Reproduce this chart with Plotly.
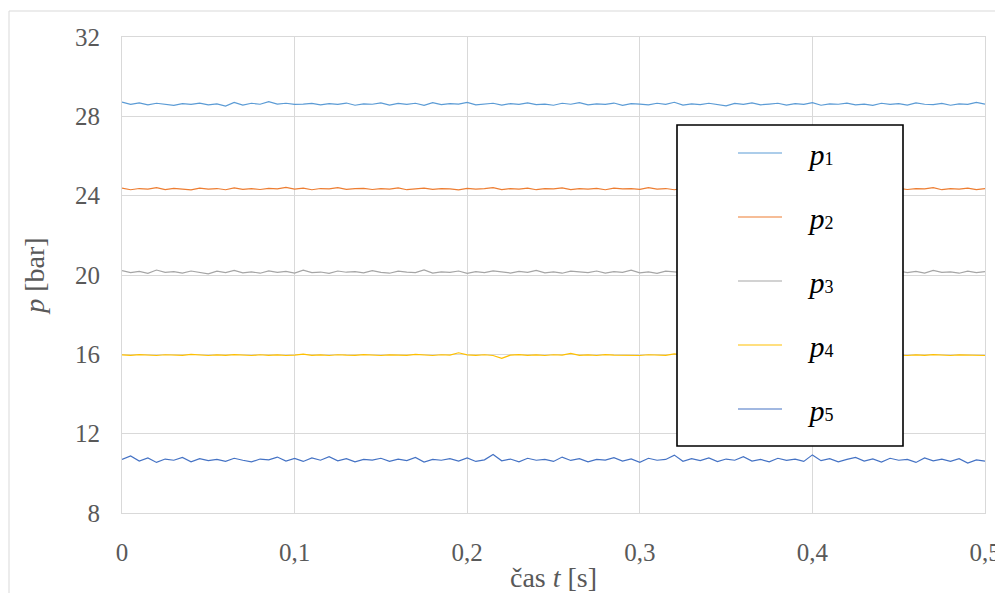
import numpy as np
import plotly.graph_objects as go

# ---- data ----
p1 = [28.72,28.60,28.68,28.58,28.66,28.62,28.55,28.64,28.60,28.67,
      28.58,28.63,28.52,28.70,28.57,28.66,28.61,28.74,28.62,28.66,
      28.60,28.62,28.65,28.58,28.64,28.60,28.67,28.56,28.63,28.61,
      28.68,28.57,28.65,28.60,28.66,28.55,28.69,28.59,28.64,28.62,
      28.70,28.58,28.63,28.66,28.57,28.64,28.60,28.68,28.59,28.62,
      28.56,28.66,28.61,28.69,28.58,28.63,28.60,28.67,28.55,28.64,
      28.62,28.58,28.66,28.60,28.71,28.57,28.63,28.59,28.66,28.61,
      28.53,28.65,28.60,28.68,28.58,28.62,28.66,28.57,28.64,28.60,
      28.69,28.56,28.63,28.61,28.67,28.58,28.62,28.55,28.66,28.60,
      28.64,28.57,28.68,28.61,28.59,28.65,28.56,28.63,28.60,28.70,28.62]
p2 = [24.38,24.30,24.36,24.33,24.40,24.31,24.37,24.34,24.29,24.38,
      24.33,24.36,24.30,24.39,24.32,24.35,24.31,24.37,24.34,24.42,
      24.33,24.38,24.30,24.36,24.34,24.40,24.32,24.35,24.37,24.31,
      24.36,24.33,24.39,24.30,24.35,24.38,24.32,24.36,24.34,24.29,
      24.37,24.33,24.35,24.40,24.31,24.36,24.33,24.38,24.30,24.35,
      24.34,24.39,24.31,24.36,24.33,24.37,24.30,24.38,24.34,24.35,
      24.32,24.40,24.33,24.36,24.30,24.37,24.35,24.31,24.39,24.34,
      24.36,24.30,24.38,24.33,24.35,24.41,24.32,24.36,24.34,24.29,
      24.37,24.33,24.39,24.31,24.35,24.36,24.30,24.38,24.34,24.32,
      24.37,24.31,24.36,24.34,24.40,24.30,24.35,24.33,24.38,24.31,24.36]
p3 = [20.22,20.12,20.18,20.08,20.25,20.13,20.17,20.10,20.20,20.14,
      20.06,20.19,20.12,20.23,20.11,20.16,20.09,20.21,20.13,20.18,
      20.10,20.24,20.12,20.15,20.08,20.20,20.14,20.17,20.11,20.22,
      20.13,20.09,20.19,20.15,20.12,20.26,20.10,20.16,20.13,20.20,
      20.08,20.17,20.12,20.21,20.14,20.10,20.18,20.13,20.23,20.11,
      20.16,20.09,20.19,20.14,20.12,20.20,20.10,20.17,20.13,20.24,
      20.11,20.16,20.08,20.19,20.14,20.12,20.21,20.10,20.17,20.13,
      20.25,20.11,20.15,20.09,20.20,20.13,20.18,20.10,20.22,20.14,
      20.12,20.19,20.09,20.16,20.13,20.21,20.11,20.17,20.14,20.08,
      20.20,20.12,20.18,20.10,20.23,20.13,20.16,20.09,20.19,20.12,20.17]
p4 = [15.97,15.95,15.99,15.96,15.94,15.98,15.96,15.95,16.00,15.96,
      15.94,15.97,15.95,15.99,15.96,15.94,15.98,15.95,15.97,15.94,
      15.96,16.01,15.95,15.97,15.94,15.98,15.96,15.95,15.99,15.96,
      15.94,15.97,15.96,15.95,16.00,15.96,15.94,15.98,15.96,16.08,
      15.97,15.95,15.98,15.94,15.80,15.96,15.99,15.95,15.97,15.94,
      15.98,15.96,16.05,15.95,15.97,15.94,15.99,15.96,15.95,15.97,
      15.94,15.98,15.96,15.95,16.02,15.96,15.94,15.97,15.95,15.99,
      15.96,15.94,15.98,15.95,15.97,15.96,15.94,15.99,15.95,15.97,
      15.94,15.98,15.96,15.95,16.00,15.96,15.94,15.97,15.95,15.98,
      15.96,15.94,15.97,15.95,15.99,15.96,15.94,15.97,15.95,15.96,15.94]
p5 = [10.70,10.88,10.62,10.78,10.55,10.72,10.66,10.80,10.58,10.74,
      10.64,10.70,10.60,10.76,10.66,10.58,10.72,10.68,10.82,10.62,
      10.75,10.60,10.78,10.66,10.84,10.63,10.74,10.58,10.70,10.67,
      10.76,10.60,10.72,10.64,10.80,10.57,10.70,10.66,10.74,10.62,
      10.78,10.60,10.68,10.95,10.63,10.72,10.58,10.76,10.66,10.70,
      10.60,10.82,10.65,10.74,10.58,10.70,10.67,10.79,10.62,10.73,
      10.56,10.76,10.66,10.70,10.92,10.61,10.74,10.64,10.78,10.59,
      10.72,10.66,10.84,10.62,10.70,10.58,10.76,10.65,10.72,10.60,
      10.93,10.64,10.74,10.58,10.70,10.80,10.62,10.73,10.57,10.76,
      10.66,10.70,10.55,10.78,10.63,10.72,10.60,10.74,10.52,10.68,10.62]

series_values = [p1, p2, p3, p4, p5]
series_names = ["1", "2", "3", "4", "5"]
series_colors = ["#5B9BD5", "#ED7D31", "#A5A5A5", "#FFC000", "#4472C4"]
t_end = 0.5
x_ticks = [0, 0.1, 0.2, 0.3, 0.4, 0.5]
x_tick_labels = ["0", "0,1", "0,2", "0,3", "0,4", "0,5"]
y_ticks = [8, 12, 16, 20, 24, 28, 32]

SERIF = "Liberation Serif"

fig = go.Figure()
for vals, nm, col in zip(series_values, series_names, series_colors):
    t = np.linspace(0, t_end, len(vals))
    fig.add_trace(go.Scatter(
        x=t, y=vals, mode="lines",
        name="&nbsp;&nbsp;&nbsp;<i>p</i><span style='font-size:18px'>" + nm + "</span>",
        legendgroup=nm,
        line=dict(color=col, width=1.2),
    ))

# page body has an 8px margin -> figure origin sits at screen (8, 8)
OFF = 8
W, H = 1003 - OFF, 601 - 2 * OFF
PL, PR, PT, PB = 122, 985, 37, 513          # plot area in screen pixels
L, T = PL - OFF, PT - OFF
R, B = W - (PR - OFF), H - (PB - OFF)
pw, ph = PR - PL, PB - PT

def px_x(px):
    return (px - PL) / pw

def px_y(py):
    return (PB - py) / ph

shapes = [
    # outer chart-area frame
    dict(type="rect", xref="paper", yref="paper",
         x0=px_x(9), x1=px_x(1020), y0=px_y(640), y1=px_y(11),
         line=dict(color="#D9D9D9", width=1), fillcolor="rgba(0,0,0,0)", layer="below"),
    # legend box
    dict(type="rect", xref="paper", yref="paper",
         x0=px_x(677), x1=px_x(903), y0=px_y(446), y1=px_y(125),
         line=dict(color="#000000", width=1.6), fillcolor="#FFFFFF", layer="above"),
]

fig.update_layout(
    width=W, height=H,
    margin=dict(l=L, r=R, t=T, b=B, autoexpand=False),
    paper_bgcolor="white", plot_bgcolor="white",
    font=dict(family=SERIF, color="#595959", size=25),
    showlegend=True,
    legend=dict(
        x=px_x(733), y=px_y(127), xanchor="left", yanchor="top",
        bgcolor="rgba(0,0,0,0)", borderwidth=0,
        font=dict(family=SERIF, size=30, color="#000000"),
        itemwidth=44, tracegroupgap=22, traceorder="grouped",
    ),
    shapes=shapes,
    xaxis=dict(
        range=[0, t_end], tickvals=x_ticks, ticktext=x_tick_labels, automargin=False,
        showgrid=True, gridcolor="#D9D9D9", gridwidth=1,
        showline=True, linecolor="#D9D9D9", mirror=True,
        zeroline=False,
        ticks="outside", ticklen=17, tickcolor="rgba(0,0,0,0)",
        tickfont=dict(family=SERIF, size=25, color="#595959"),
        title=dict(text="čas <i>t</i> [s]", standoff=3,
                   font=dict(family=SERIF, size=28, color="#595959")),
    ),
    yaxis=dict(
        range=[8, 32], tickvals=y_ticks, automargin=False,
        showgrid=True, gridcolor="#D9D9D9", gridwidth=1,
        showline=True, linecolor="#D9D9D9", mirror=True,
        zeroline=False,
        ticks="outside", ticklen=16, tickcolor="rgba(0,0,0,0)",
        tickfont=dict(family=SERIF, size=25, color="#595959"),
        title=dict(text="<i>p</i> [bar]", standoff=22,
                   font=dict(family=SERIF, size=28, color="#595959")),
    ),
)

fig.write_html("out.html")
